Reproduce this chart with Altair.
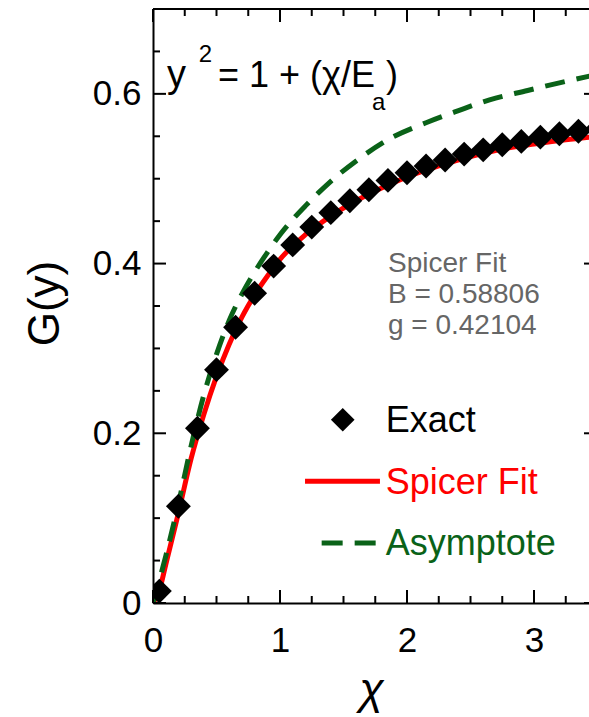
import altair as alt
import pandas as pd

# ---------------- data ----------------
exact_x = [0.05, 0.20, 0.35, 0.50, 0.65, 0.80, 0.95, 1.10, 1.25, 1.40, 1.55, 1.70,
           1.85, 2.00, 2.15, 2.30, 2.45, 2.60, 2.75, 2.90, 3.05, 3.20, 3.35, 3.50]
exact_y = [0.014, 0.114, 0.206, 0.275, 0.325, 0.365, 0.397, 0.422, 0.443, 0.460, 0.474, 0.487,
           0.498, 0.507, 0.515, 0.522, 0.529, 0.534, 0.540, 0.544, 0.549, 0.553, 0.556, 0.559]

fit_x = [0.0, 0.05, 0.10, 0.20, 0.30, 0.40, 0.50, 0.60, 0.70, 0.80, 0.90, 1.00,
         1.20, 1.40, 1.60, 1.80, 2.00, 2.25, 2.50, 2.75, 3.00, 3.25, 3.50]
fit_y = [0.0, 0.015, 0.045, 0.106, 0.170, 0.222, 0.267, 0.305, 0.337, 0.363, 0.385, 0.405,
         0.434, 0.456, 0.474, 0.489, 0.502, 0.515, 0.526, 0.535, 0.541, 0.546, 0.550]

asym_x = [0.0, 0.10, 0.20, 0.30, 0.40, 0.50, 0.60, 0.70, 0.80, 0.90, 1.00, 1.10,
          1.20, 1.30, 1.40, 1.60, 1.85, 2.15, 2.40, 2.65, 2.95, 3.20, 3.50]
asym_y = [0.0, 0.055, 0.117, 0.185, 0.245, 0.293, 0.333, 0.364, 0.390, 0.413, 0.434, 0.452,
          0.468, 0.483, 0.497, 0.521, 0.546, 0.566, 0.580, 0.593, 0.604, 0.613, 0.623]

x_major = [0, 1, 2, 3]
x_minor = [0.25, 0.5, 0.75, 1.25, 1.5, 1.75, 2.25, 2.5, 2.75, 3.25]
y_major = [0, 0.2, 0.4, 0.6]
y_minor = [0.05, 0.1, 0.15, 0.25, 0.3, 0.35, 0.45, 0.5, 0.55, 0.65]

# ---------------- layout ----------------
W, H = 436, 594
FONT = "Liberation Sans"
BLACK = "#000000"
RED = "#ff0000"
GREEN = "#0a6218"
GRAY = "#666666"

xs = alt.Scale(domain=[0, 3.433], nice=False, zero=False)
ys = alt.Scale(domain=[0, 0.7], nice=False, zero=False)

x_axis = alt.Axis(values=x_major, format="d", ticks=False, grid=False,
                  domain=True, domainColor=BLACK, domainWidth=2,
                  labelFont=FONT, labelFontSize=35, labelColor=BLACK,
                  labelPadding=20, labelFlush=False,
                  title="χ", titleFont=FONT, titleFontSize=45,
                  titleFontStyle="italic", titleFontWeight="normal",
                  titleColor=BLACK, titleBaseline="alphabetic",
                  titleY=100)
y_axis = alt.Axis(values=y_major, format=".1~f", ticks=False, grid=False,
                  domain=True, domainColor=BLACK, domainWidth=2,
                  labelFont=FONT, labelFontSize=35, labelColor=BLACK,
                  labelPadding=12, labelFlush=False,
                  title="G(y)", titleFont=FONT, titleFontSize=44,
                  titleFontWeight="normal", titleColor=BLACK,
                  titleBaseline="middle", titleX=-108, titleY=294)


def X(field="x", axis=None):
    return alt.X(f"{field}:Q", scale=xs, axis=axis)


def Y(field="y", axis=None):
    return alt.Y(f"{field}:Q", scale=ys, axis=axis)


exact_df = pd.DataFrame({"x": exact_x, "y": exact_y})
fit_df = pd.DataFrame({"x": fit_x, "y": fit_y})
asym_df = pd.DataFrame({"x": asym_x, "y": asym_y})

fit = alt.Chart(fit_df).mark_line(color=RED, strokeWidth=5, clip=True,
                                  interpolate="monotone").encode(
    x=X(axis=x_axis), y=Y(axis=y_axis))
asym = alt.Chart(asym_df).mark_line(color=GREEN, strokeWidth=5, clip=True,
                                    strokeDash=[20, 12],
                                    interpolate="monotone").encode(
    x=X(axis=x_axis), y=Y(axis=y_axis))
points = alt.Chart(exact_df).mark_point(shape="diamond", filled=True, size=620,
                                        color=BLACK, opacity=1, clip=True).encode(
    x=X(axis=x_axis), y=Y(axis=y_axis))


# inward ticks
def tick_layer(values, axis, length):
    df = pd.DataFrame({"v": values})
    ch = alt.Chart(df).mark_rule(color=BLACK, strokeWidth=2)
    if axis == "bottom":
        return ch.encode(x=X("v", x_axis), y=alt.value(H), y2=alt.value(H - length))
    if axis == "top":
        return ch.encode(x=X("v", x_axis), y=alt.value(0), y2=alt.value(length))
    if axis == "left":
        return ch.encode(y=Y("v", y_axis), x=alt.value(0), x2=alt.value(length))
    return ch.encode(y=Y("v", y_axis), x=alt.value(W + 8 - length), x2=alt.value(W))


ticks = [
    tick_layer(x_major, "bottom", 13), tick_layer(x_minor, "bottom", 7),
    tick_layer(x_major, "top", 13), tick_layer(x_minor, "top", 7),
    tick_layer(y_major, "left", 13), tick_layer(y_minor, "left", 7),
    tick_layer(y_major, "right", 13),
]

top_border = alt.Chart(pd.DataFrame({"a": [0]})).mark_rule(
    color=BLACK, strokeWidth=2).encode(x=alt.value(0), x2=alt.value(W), y=alt.value(0))

# formula  y^2 = 1 + (chi/E_a)
formula_df = pd.DataFrame({
    "x": [0.110, 0.360, 0.512, 1.724, 1.835],
    "y": [0.608, 0.637, 0.608, 0.581, 0.608],
    "t": ["y", "2", "= 1 + (χ/E", "a", ")"],
    "s": [38, 24, 36, 24, 36],
})
formula = alt.Chart(formula_df).mark_text(font=FONT, align="left", baseline="alphabetic",
                                          color=BLACK).encode(
    x=X(axis=x_axis), y=Y(axis=y_axis), text="t:N",
    size=alt.Size("s:Q", scale=None, legend=None))

# gray annotation
annot_df = pd.DataFrame({
    "x": [1.85, 1.85, 1.85],
    "y": [0.399, 0.363, 0.326],
    "t": ["Spicer Fit", "B = 0.58806", "g = 0.42104"],
})
annot = alt.Chart(annot_df).mark_text(font=FONT, fontSize=28, align="left",
                                      baseline="middle", color=GRAY).encode(
    x=X(axis=x_axis), y=Y(axis=y_axis), text="t:N")

# legend
leg_pt = alt.Chart(pd.DataFrame({"x": [1.494], "y": [0.216]})).mark_point(
    shape="diamond", filled=True, size=560, color=BLACK, opacity=1).encode(
    x=X(axis=x_axis), y=Y(axis=y_axis))
leg_red = alt.Chart(pd.DataFrame({"x": [1.197], "x2": [1.787], "y": [0.1435]})).mark_rule(
    color=RED, strokeWidth=5).encode(x=X(axis=x_axis), x2="x2:Q", y=Y(axis=y_axis))
leg_green = alt.Chart(pd.DataFrame({"x": [1.328], "x2": [1.756], "y": [0.0706]})).mark_rule(
    color=GREEN, strokeWidth=5, strokeDash=[21, 12]).encode(
    x=X(axis=x_axis), x2="x2:Q", y=Y(axis=y_axis))
leg_text_df = pd.DataFrame({
    "x": [1.832, 1.832, 1.832],
    "y": [0.214, 0.141, 0.0694],
    "t": ["Exact", "Spicer Fit", "Asymptote"],
    "c": [BLACK, RED, GREEN],
})
leg_text = alt.Chart(leg_text_df).mark_text(font=FONT, fontSize=36, align="left",
                                            baseline="middle").encode(
    x=X(axis=x_axis), y=Y(axis=y_axis), text="t:N",
    color=alt.Color("c:N", scale=None, legend=None))

chart = alt.layer(
    fit, asym, points, *ticks, top_border, formula, annot,
    leg_red, leg_green, leg_pt, leg_text,
).properties(
    width=W, height=H,
    autosize=alt.AutoSizeParams(type="none"),
    padding={"left": 153, "top": 9, "right": 0, "bottom": 114},
    background="white",
).configure_view(stroke=None)

chart.save("out.html", embed_options={"renderer": "svg", "actions": False})
